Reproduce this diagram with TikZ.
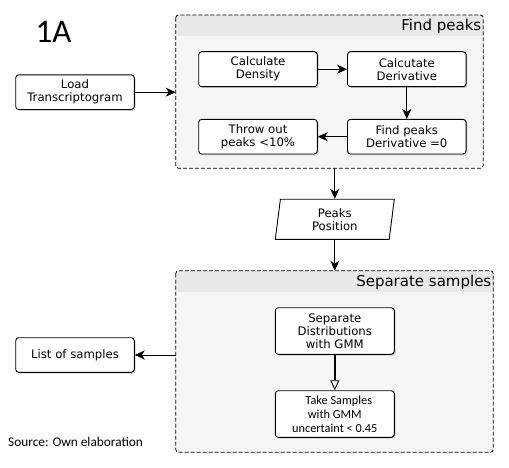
\documentclass[tikz,border=0pt]{standalone}
\usepackage{fontspec}
\setmainfont{DejaVu Sans}
\newfontfamily\calib{Carlito}
\usetikzlibrary{arrows.meta,shadows,shapes.geometric,calc}
\definecolor{grpbody}{HTML}{F6F6F6}
\definecolor{grphdr}{HTML}{E9E9E9}
\tikzset{
  box/.style={draw=black, line width=0.9pt, rounded corners=3pt, fill=white,
    minimum width=118.6pt, minimum height=34.6pt, inner sep=0pt, align=center,
    font=\fontsize{11.7}{13}\selectfont,
    drop shadow={shadow xshift=1.3pt, shadow yshift=-1.3pt, opacity=0.35, fill=gray}},
  grp/.style={fill=grpbody, inner sep=0pt, outer sep=0pt},
  grpborder/.style={draw=black, line width=0.8pt, dash pattern=on 4pt off 2pt, rounded corners=3pt},
  title/.style={font=\fontsize{15}{17}\selectfont, inner sep=0pt, anchor=east},
  arr/.style={draw=black, line width=0.9pt, -{Stealth[length=10pt,width=9pt,inset=3pt]}},
  openarr/.style={draw=black, line width=1.8pt, -{Triangle[open,length=10pt,width=9pt,line width=0.9pt]}}
}
\begin{document}
\begin{tikzpicture}[x=1pt,y=-1pt]
\useasboundingbox[fill=white] (0,0) rectangle (509,468);

% group: Find peaks
\node[grp, minimum width=307.6pt, minimum height=153.3pt] (fp) at (329.5,91.65) {};
\begin{scope}
  \clip[rounded corners=3pt] (fp.north west) rectangle (fp.south east);
  \fill[grphdr] (fp.north west) rectangle ($(fp.north east)+(0,21)$);
\end{scope}
\draw[grpborder] (fp.north west) rectangle (fp.south east);
\node[title] (fptitle) at (481.5,26) {Find peaks};

% group: Separate samples
\node[grp, minimum width=317.6pt, minimum height=181.6pt] (ss) at (334.5,361.5) {};
\begin{scope}
  \clip[rounded corners=3pt] (ss.north west) rectangle (ss.south east);
  \fill[grphdr] (ss.north west) rectangle ($(ss.north east)+(0,21.6)$);
\end{scope}
\draw[grpborder] (ss.north west) rectangle (ss.south east);
\node[title] (sstitle) at (491.5,282) {Separate samples};

% label
\node[font=\calib\fontsize{33}{36}\selectfont, inner sep=0pt] (lab) at (53.5,32) {1A};
\node[font=\calib\fontsize{13.3}{15}\selectfont, inner sep=0pt, anchor=west] (src) at (8,441.7) {Source: Own elaboration};

% boxes
\node[box] (load) at (75,92.2) {Load\\Transcriptogram};
\node[box, minimum height=35pt] (cd) at (258,69.2) {Calculate\\Density};
\node[box, minimum height=35pt] (cdv) at (406.8,69.2) {Calcutate\\Derivative};
\node[box] (fpk) at (406.8,136.7) {Find peaks\\Derivative =0};
\node[box] (tout) at (258,136.7) {Throw out\\peaks <10\%};

\node[draw=black, line width=0.9pt, fill=white, trapezium, trapezium left angle=77, trapezium right angle=103,
  trapezium stretches body, minimum width=119pt, minimum height=40pt, inner sep=0pt, align=center,
  font=\fontsize{11.7}{13}\selectfont] (pp) at (334.8,219.3) {Peaks\\Position};

\node[box, minimum width=119pt, minimum height=46.6pt] (sd) at (334.8,331) {Separate\\Distributions\\with GMM};
\node[box, minimum width=119pt, minimum height=46.6pt, font=\calib\fontsize{12.3}{13.8}\selectfont] (ts) at (334.8,414) {\hspace{8pt}Take Samples\\with GMM\\uncertaint < 0.45};
\node[box] (ls) at (75,355) {List of samples};

% connectors
\draw[arr] (load.east) -- (load.east -| fp.west);
\draw[arr] (cd.east) -- (cdv.west);
\draw[arr] (cdv.south) -- (fpk.north);
\draw[arr] (fpk.west) -- (tout.east);
\draw[arr] (pp.center |- fp.south) -- (pp.center |- pp.north);
\draw[arr] (pp.center |- pp.south) -- (pp.center |- ss.north);
\draw[openarr] (sd.south) -- (ts.north);
\draw[arr] (ss.west |- ls.east) -- (ls.east);
\end{tikzpicture}
\end{document}
